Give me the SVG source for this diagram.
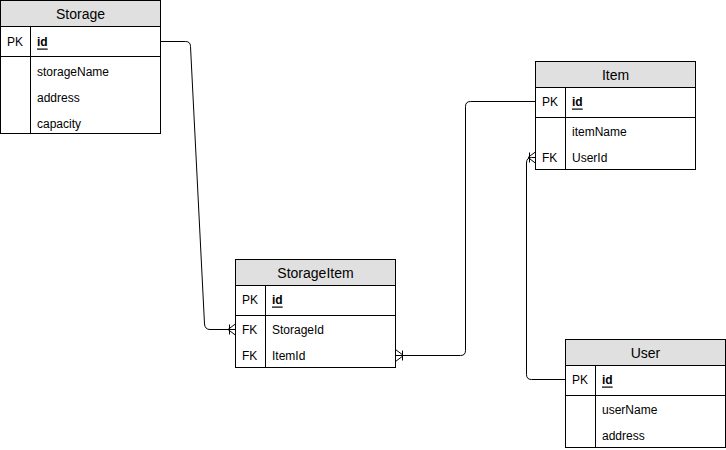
<svg xmlns="http://www.w3.org/2000/svg" width="726" height="450" viewBox="0 0 726 450">
<style>
.box{fill:#ffffff;stroke:#000000;stroke-width:1}
.hdr{fill:#e0e0e0;stroke:#000000;stroke-width:1}
.ln{stroke:#000000;stroke-width:1;fill:none}
.t{font-family:"Liberation Sans",Arial,sans-serif;font-size:12px;fill:#000000;dominant-baseline:central}
.h{font-family:"Liberation Sans",Arial,sans-serif;font-size:14px;fill:#000000;dominant-baseline:central;text-anchor:middle}
.k{font-weight:bold;text-decoration:underline}
.c{stroke:#000000;stroke-width:1;fill:none}
</style>
<rect width="726" height="450" fill="#ffffff"/>
<g id="connectors">
<path class="c" d="M160.5,41.5 L185.5,41.5 Q190.5,41.5 190.5,46.5 L204.5,324 Q205,329.5 210,329.5 L236,329.5"/>
<path class="c" d="M229.5,324.5 L229.5,334.5 M236,323.5 L228,329.5 L236,335.5"/>
<path class="c" d="M395.5,355.5 L460.5,355.5 Q465.5,355.5 465.5,350.5 L465.5,106.5 Q465.5,101.5 470.5,101.5 L536,101.5"/>
<path class="c" d="M402.5,350.5 L402.5,360.5 M395.5,349.5 L403.5,355.5 L395.5,361.5"/>
<path class="c" d="M566,379.5 L531.5,379.5 Q526.5,379.5 526.5,374.5 L526.5,163 Q526.5,157.5 531.5,157.5 L536,157.5"/>
<path class="c" d="M529.5,152.5 L529.5,162.5 M536,151.5 L528,157.5 L536,163.5"/>
</g>
<g id="Storage">
<rect class="box" x="0.5" y="0.5" width="160" height="133"/>
<rect class="hdr" x="0.5" y="0.5" width="160" height="26"/>
<text class="h" x="80.5" y="14">Storage</text>
<line class="ln" x1="0.5" y1="56.5" x2="160.5" y2="56.5"/>
<line class="ln" x1="30.5" y1="26.5" x2="30.5" y2="133.5"/>
<text class="t" x="7" y="41.5">PK</text>
<text class="t k" x="37" y="41.5">id</text>
<text class="t" x="37" y="71.5">storageName</text>
<text class="t" x="37" y="97.5">address</text>
<text class="t" x="37" y="123.5">capacity</text>
</g>
<g id="StorageItem">
<rect class="box" x="235.5" y="259.5" width="160" height="108"/>
<rect class="hdr" x="235.5" y="259.5" width="160" height="26"/>
<text class="h" x="315.5" y="273">StorageItem</text>
<line class="ln" x1="235.5" y1="315.5" x2="395.5" y2="315.5"/>
<line class="ln" x1="265.5" y1="285.5" x2="265.5" y2="367.5"/>
<text class="t" x="242" y="299.5">PK</text>
<text class="t k" x="272" y="299.5">id</text>
<text class="t" x="242" y="329.5">FK</text>
<text class="t" x="272" y="329.5">StorageId</text>
<text class="t" x="242" y="355.5">FK</text>
<text class="t" x="272" y="355.5">ItemId</text>
</g>
<g id="Item">
<rect class="box" x="535.5" y="61.5" width="160" height="108"/>
<rect class="hdr" x="535.5" y="61.5" width="160" height="26"/>
<text class="h" x="615.5" y="75">Item</text>
<line class="ln" x1="535.5" y1="117.5" x2="695.5" y2="117.5"/>
<line class="ln" x1="565.5" y1="87.5" x2="565.5" y2="169.5"/>
<text class="t" x="542" y="101.5">PK</text>
<text class="t k" x="572" y="101.5">id</text>
<text class="t" x="572" y="131.5">itemName</text>
<text class="t" x="542" y="157.5">FK</text>
<text class="t" x="572" y="157.5">UserId</text>
</g>
<g id="User">
<rect class="box" x="565.5" y="339.5" width="160" height="108"/>
<rect class="hdr" x="565.5" y="339.5" width="160" height="26"/>
<text class="h" x="645.5" y="353">User</text>
<line class="ln" x1="565.5" y1="395.5" x2="725.5" y2="395.5"/>
<line class="ln" x1="595.5" y1="365.5" x2="595.5" y2="447.5"/>
<text class="t" x="572" y="379.5">PK</text>
<text class="t k" x="602" y="379.5">id</text>
<text class="t" x="602" y="409.5">userName</text>
<text class="t" x="602" y="435.5">address</text>
</g>
</svg>
